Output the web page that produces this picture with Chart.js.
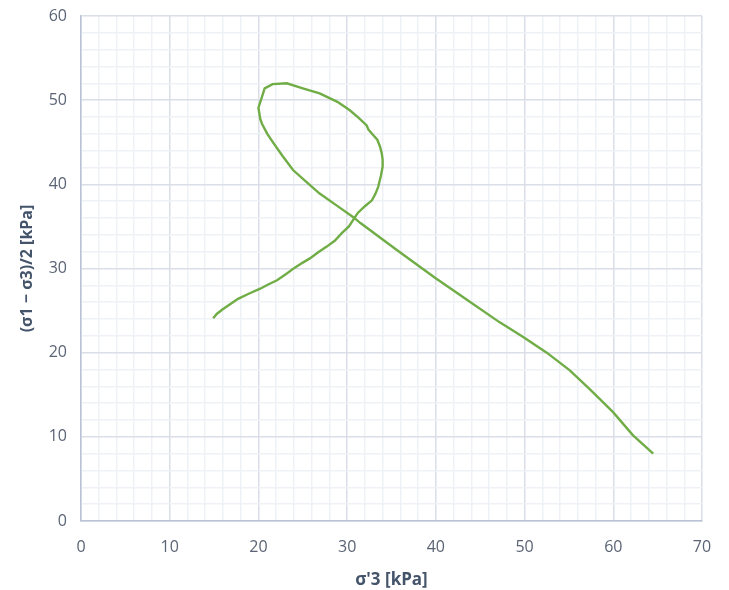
<!DOCTYPE html>
<html lang="en">
<head>
    <meta charset="UTF-8">
    <title>Stress path</title>
    <script src="https://cdn.jsdelivr.net/npm/chart.js"></script>
    <style>
        body { margin: 0; background: #fff; }
        #wrap { width: 729px; height: 590px; }
    </style>
</head>
<body>
    <div id="wrap"><canvas id="pathChart" width="729" height="590"></canvas></div>

    <script>
        // sigma'3 [kPa]
        const sigma3 = [14.9, 15.3, 15.9, 16.6, 17.7, 18.9, 20.2, 21.1, 22.1, 23.2, 24.1, 25.0, 25.8, 26.7, 27.7, 28.6, 29.4, 30.2, 30.7, 31.2,
            32.0, 32.8, 33.2, 33.5, 33.8, 34.0, 34.0, 33.9, 33.7, 33.4, 32.9, 32.4, 32.2, 31.3, 30.3, 28.9, 26.9, 25.0, 23.2,
            21.6, 20.7, 20.4, 20.0, 20.2, 20.4, 21.0, 21.7, 22.7, 23.9, 25.4, 26.9, 28.8, 30.7, 31.5, 35.6, 39.9, 43.5, 47.2,
            49.8, 52.5, 55.1, 57.4, 60.0, 62.2, 64.5];
        // (sigma1 - sigma3)/2 [kPa]
        const tau = [24.1, 24.6, 25.1, 25.6, 26.4, 27.0, 27.6, 28.1, 28.6, 29.4, 30.1, 30.7, 31.2, 31.9, 32.6, 33.3, 34.2, 35.0, 35.8, 36.6,
            37.4, 38.1, 38.9, 39.7, 41.0, 42.1, 42.9, 43.7, 44.5, 45.3, 45.9, 46.5, 47.0, 47.9, 48.8, 49.8, 50.8, 51.4, 52.0,
            51.9, 51.4, 50.4, 49.1, 47.8, 47.2, 46.0, 44.9, 43.4, 41.7, 40.3, 38.9, 37.5, 36.1, 35.4, 32.2, 28.9, 26.3, 23.6,
            21.9, 20.0, 17.9, 15.6, 12.9, 10.2, 8.0];

        const xTicks = [0, 10, 20, 30, 40, 50, 60, 70];
        const yTicks = [0, 10, 20, 30, 40, 50, 60];

        const points = sigma3.map((x, i) => ({ x: x, y: tau[i] }));

        const tickColor = '#5b6475';
        const titleColor = '#44546a';
        const fontFamily = "'Open Sans', 'Liberation Sans', sans-serif";

        function gridColor(ctx) {
            return ctx.tick && ctx.tick.value % 10 === 0 ? '#d9dee7' : '#eef1f5';
        }

        const ctx = document.getElementById('pathChart').getContext('2d');
        const pathChart = new Chart(ctx, {
            type: 'scatter',
            data: {
                datasets: [{
                    data: points,
                    showLine: true,
                    borderColor: '#70ad47',
                    borderWidth: 2.4,
                    pointRadius: 0,
                    tension: 0
                }]
            },
            options: {
                responsive: false,
                animation: false,
                layout: { padding: { top: 16, right: 27, left: 18, bottom: 0 } },
                plugins: { legend: { display: false }, tooltip: { enabled: false } },
                scales: {
                    x: {
                        type: 'linear',
                        min: 0, max: 70,
                        afterFit: s => { s.height = 69; },
                        border: { color: '#b8c3d5', width: 1.5 },
                        grid: { color: gridColor, lineWidth: 1.5, drawTicks: false },
                        ticks: {
                            stepSize: 2, autoSkip: false, padding: 17, maxRotation: 0,
                            color: tickColor, font: { family: fontFamily, size: 16 },
                            callback: v => xTicks.includes(v) ? v : ''
                        },
                        title: {
                            display: true, text: "σ'3 [kPa]", color: titleColor, padding: { top: 1, bottom: 0 },
                            font: { family: fontFamily, size: 17, weight: 'bold' }
                        }
                    },
                    y: {
                        type: 'linear',
                        min: 0, max: 60,
                        // keep the plot top where the layout padding puts it
                        afterFit: s => { s.width = 63; s.paddingTop = 0; s.paddingBottom = 0; },
                        border: { color: '#b8c3d5', width: 1.5 },
                        grid: { color: gridColor, lineWidth: 1.5, drawTicks: false },
                        ticks: {
                            stepSize: 2, autoSkip: false, padding: 14,
                            color: tickColor, font: { family: fontFamily, size: 16 },
                            callback: v => yTicks.includes(v) ? v : ''
                        },
                        title: {
                            display: true, text: '(σ1 − σ3)/2 [kPa]', color: titleColor, padding: { top: 0, bottom: 0 },
                            font: { family: fontFamily, size: 16, weight: 'bold' }
                        }
                    }
                }
            }
        });
    </script>
</body>
</html>
